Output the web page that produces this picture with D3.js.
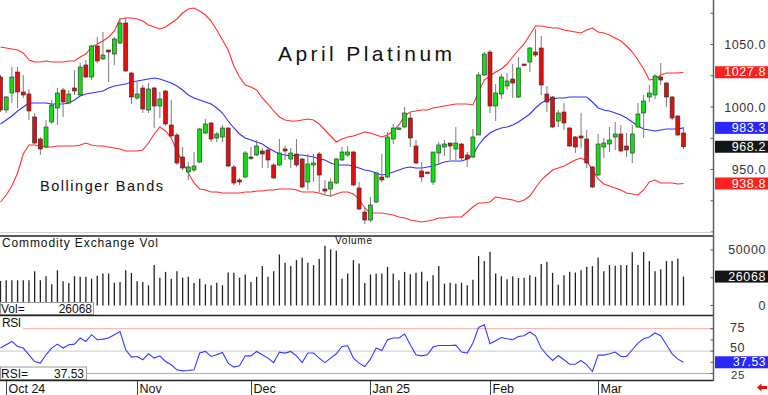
<!DOCTYPE html>
<html>
<head>
<meta charset="utf-8">
<script src="https://cdn.jsdelivr.net/npm/d3@7"></script>
<style>
    body { margin: 0; background: #fff; }
    svg { display: block; font-family: "Liberation Sans", Arial, sans-serif; }
</style>
</head>
<body>
<svg id="chart" width="768" height="395"></svg>
<script>
// daily bars, Sep 30 2024 .. Mar 2025
const opens = [
    1024.0, 997.6, 1011.2, 1028.0, 1012.0, 1010.4, 992.0, 974.4, 968.0, 988.0,
    999.2, 1013.6, 1003.2, 1015.2, 1009.6, 1033.6, 1024.0, 1048.8, 1038.4, 1045.6,
    1042.4, 1051.2, 1067.2, 1027.2, 1007.2, 1015.2, 997.6, 1015.2, 1000.8, 1012.8,
    985.6, 977.6, 960.0, 948.0, 949.6, 956.0, 979.2, 987.2, 975.2, 976.0,
    983.2, 952.0, 941.6, 944.0, 960.0, 961.6, 964.8, 965.6, 953.6, 953.6,
    966.4, 958.4, 962.4, 958.4, 940.0, 953.6, 962.4, 934.4, 934.4, 939.2,
    957.6, 961.6, 964.0, 935.2, 916.0, 909.6, 924.0, 944.0, 944.0, 974.4,
    982.4, 984.0, 991.2, 968.8, 948.8, 948.0, 940.0, 963.2, 968.0, 971.2,
    966.4, 970.4, 961.6, 960.0, 977.6, 1025.6, 1044.0, 1000.8, 1010.4, 1016.8,
    1022.4, 1008.0, 1034.4, 1036.0, 1044.0, 1047.2, 1010.4, 1008.0, 988.8, 996.0,
    983.2, 976.0, 976.8, 974.4, 952.0, 945.6, 968.0, 970.4, 976.0, 978.4,
    968.8, 963.2, 984.0, 995.2, 1008.0, 1009.6, 1024.0, 1019.2, 1008.0, 992.8,
    979.2
];
const highs = [
    1025.6, 1008.8, 1032.0, 1032.0, 1025.6, 1014.4, 995.2, 976.0, 989.6, 1005.6,
    1015.2, 1015.2, 1013.6, 1029.6, 1035.2, 1037.6, 1049.6, 1056.0, 1060.0, 1045.6,
    1056.0, 1071.2, 1071.2, 1028.0, 1020.0, 1017.6, 1019.2, 1016.0, 1012.0, 1013.6,
    1005.6, 979.2, 968.0, 956.0, 964.0, 983.2, 990.4, 988.0, 980.0, 985.6,
    984.0, 953.6, 943.2, 964.8, 968.0, 973.6, 967.2, 968.0, 955.2, 974.4,
    968.8, 967.2, 974.4, 959.2, 962.4, 962.4, 964.0, 941.6, 943.2, 959.2,
    968.0, 968.8, 964.8, 940.0, 920.0, 928.0, 948.0, 962.4, 980.0, 986.4,
    984.0, 1000.0, 995.2, 973.6, 956.0, 948.0, 964.0, 972.0, 973.6, 971.2,
    984.0, 971.2, 964.0, 982.4, 1028.0, 1044.0, 1045.6, 1018.4, 1026.4, 1027.2,
    1034.4, 1040.0, 1034.4, 1048.0, 1062.4, 1056.8, 1016.8, 1008.8, 997.6, 1003.2,
    984.0, 976.8, 995.2, 981.6, 952.8, 978.4, 975.2, 984.0, 988.0, 985.6,
    979.2, 985.6, 1003.2, 1009.6, 1017.6, 1026.4, 1035.2, 1020.0, 1008.8, 993.6,
    984.0
];
const lows = [
    996.0, 995.2, 1003.2, 999.2, 1007.2, 989.6, 970.4, 961.6, 967.2, 986.4,
    985.6, 992.0, 1002.4, 1009.6, 1008.8, 1023.2, 1021.6, 1035.2, 1037.6, 1020.0,
    1033.6, 1050.4, 1028.0, 1002.4, 1005.6, 995.2, 995.2, 983.2, 991.2, 984.8,
    976.0, 953.6, 949.6, 941.6, 948.0, 955.2, 978.4, 972.0, 972.0, 972.0,
    952.0, 937.6, 937.6, 943.2, 957.6, 960.8, 951.2, 951.2, 942.4, 952.8,
    957.6, 951.2, 952.0, 935.2, 933.6, 940.0, 932.0, 929.6, 928.0, 938.4,
    956.8, 960.0, 936.8, 917.6, 906.4, 908.0, 923.2, 940.0, 943.2, 970.4,
    981.6, 983.2, 968.0, 954.4, 940.0, 947.2, 937.6, 953.6, 960.8, 957.6,
    957.6, 957.6, 952.0, 959.2, 977.6, 1024.8, 995.2, 988.8, 1006.4, 1013.6,
    1007.2, 1007.2, 1033.6, 1028.0, 1040.0, 1009.6, 996.0, 983.2, 984.0, 981.6,
    968.0, 963.2, 967.2, 951.2, 935.2, 944.8, 959.2, 964.0, 965.6, 964.0,
    960.0, 955.2, 983.2, 975.2, 1004.0, 1006.4, 1017.6, 1000.0, 989.6, 976.8,
    966.4
];
const closes = [
    997.6, 1008.0, 1024.0, 1012.0, 1009.6, 996.8, 971.2, 966.4, 984.0, 1001.6,
    1011.2, 1004.0, 1010.4, 1012.8, 1032.0, 1024.0, 1048.8, 1036.8, 1041.6, 1044.0,
    1054.4, 1067.2, 1028.8, 1008.0, 1010.4, 998.4, 1014.4, 1000.8, 1006.4, 986.4,
    976.8, 955.2, 951.2, 952.0, 952.8, 982.4, 986.4, 974.4, 978.4, 983.2,
    952.8, 939.2, 940.0, 963.2, 959.2, 968.8, 962.4, 957.6, 943.2, 963.2,
    964.8, 963.2, 953.6, 936.0, 954.4, 955.2, 945.6, 932.8, 940.0, 958.4,
    964.0, 964.0, 937.6, 918.4, 909.6, 921.6, 947.2, 941.6, 976.0, 983.2,
    983.2, 995.2, 975.2, 955.2, 944.0, 947.2, 964.0, 969.6, 970.4, 968.8,
    971.2, 959.2, 958.4, 976.0, 1025.6, 1042.4, 1000.8, 1011.2, 1024.0, 1020.8,
    1019.2, 1031.2, 1033.6, 1047.2, 1041.6, 1017.6, 1004.0, 984.0, 995.2, 987.2,
    968.8, 968.0, 975.2, 955.2, 936.0, 970.4, 971.2, 973.6, 978.4, 964.8,
    965.6, 978.4, 994.4, 1004.8, 1011.2, 1024.8, 1021.6, 1008.0, 991.2, 977.6,
    968.2
];

// Bollinger bands
const upperBand = [
    1048.0, 1047.2, 1046.4, 1045.6, 1043.2, 1037.6, 1036.0, 1036.0, 1036.8, 1036.0,
    1036.0, 1036.0, 1036.8, 1036.8, 1040.0, 1042.4, 1048.0, 1050.4, 1052.8, 1056.0,
    1060.8, 1070.4, 1071.2, 1071.2, 1070.4, 1068.8, 1065.6, 1064.0, 1062.4, 1064.0,
    1067.2, 1070.4, 1075.2, 1078.4, 1079.2, 1076.8, 1073.6, 1068.8, 1061.6, 1053.6,
    1045.6, 1032.8, 1024.0, 1017.6, 1016.0, 1013.6, 1007.2, 1002.4, 996.8, 992.0,
    989.6, 988.8, 988.8, 989.6, 990.4, 989.6, 986.4, 981.6, 976.8, 972.0,
    974.4, 976.0, 976.8, 978.4, 980.0, 979.2, 977.6, 976.0, 977.6, 980.8,
    985.6, 992.8, 996.0, 996.8, 997.6, 997.6, 999.2, 1000.0, 1000.8, 1001.6,
    1002.4, 1002.4, 1002.4, 1001.6, 1012.0, 1021.6, 1024.8, 1028.0, 1030.4, 1034.4,
    1040.0, 1045.6, 1050.4, 1057.6, 1064.8, 1064.8, 1064.0, 1063.2, 1063.2, 1061.6,
    1060.8, 1060.0, 1059.2, 1061.6, 1063.2, 1060.0, 1059.2, 1057.6, 1055.2, 1052.8,
    1048.8, 1044.0, 1037.6, 1030.4, 1021.6, 1022.4, 1025.6, 1027.2, 1027.2, 1027.2,
    1027.8
];
const middleBand = [
    986.4, 989.6, 992.8, 996.8, 1000.0, 1003.2, 1003.2, 1003.2, 1003.2, 1002.4,
    1002.4, 1002.4, 1003.2, 1005.6, 1008.8, 1010.4, 1011.2, 1012.0, 1012.8, 1015.2,
    1016.8, 1017.6, 1018.4, 1020.0, 1020.8, 1021.6, 1022.4, 1023.2, 1022.4, 1020.8,
    1019.2, 1016.8, 1013.6, 1009.6, 1007.2, 1005.6, 1004.0, 1002.4, 999.2, 995.2,
    988.8, 983.2, 978.4, 975.2, 973.6, 972.0, 970.4, 967.2, 964.8, 962.4,
    961.6, 960.8, 961.6, 961.6, 960.8, 960.0, 958.4, 957.6, 955.2, 953.6,
    953.6, 953.6, 952.8, 951.2, 949.6, 948.8, 947.2, 945.6, 946.4, 948.0,
    949.6, 951.2, 952.0, 951.2, 951.2, 952.0, 952.8, 954.4, 956.0, 956.8,
    956.8, 956.8, 958.4, 961.6, 969.6, 975.2, 979.2, 981.6, 983.2, 984.0,
    985.6, 988.0, 991.2, 994.4, 999.2, 1003.2, 1005.6, 1006.4, 1007.2, 1007.2,
    1008.0, 1008.0, 1008.0, 1008.0, 1004.0, 999.2, 997.6, 996.8, 995.2, 993.6,
    991.2, 988.0, 984.8, 982.4, 981.6, 980.8, 981.6, 982.4, 982.4, 982.4,
    983.3
];
const lowerBand = [
    924.0, 929.6, 936.8, 947.2, 962.4, 969.6, 969.6, 968.8, 968.0, 968.0,
    968.8, 968.8, 968.8, 968.8, 969.6, 971.2, 969.6, 968.8, 968.8, 968.0,
    967.2, 966.4, 964.8, 964.8, 964.8, 965.6, 971.2, 978.4, 984.0, 980.8,
    975.2, 964.8, 956.0, 947.2, 939.2, 934.4, 933.6, 932.0, 932.0, 931.2,
    931.2, 931.2, 931.2, 932.0, 932.0, 932.8, 932.8, 933.6, 933.6, 934.4,
    934.4, 934.4, 933.6, 932.0, 932.0, 932.0, 931.2, 929.6, 928.8, 930.4,
    932.0, 932.0, 930.4, 926.4, 919.2, 915.2, 915.2, 915.2, 914.4, 913.6,
    912.0, 911.2, 909.6, 908.8, 908.0, 908.8, 909.6, 911.2, 911.2, 912.0,
    912.0, 912.0, 916.0, 920.0, 923.2, 923.2, 924.0, 928.0, 927.2, 926.4,
    925.6, 924.0, 925.6, 928.8, 935.2, 941.6, 945.6, 949.6, 951.2, 952.8,
    955.2, 957.6, 959.2, 956.8, 949.6, 942.4, 938.4, 936.8, 935.2, 933.6,
    931.2, 930.4, 929.6, 933.6, 940.0, 941.6, 939.2, 939.2, 939.2, 938.4,
    938.8
];

const volumes = [
    22000, 22700, 22700, 22700, 22700, 22700, 30900, 22700, 26400, 19100,
    31800, 21800, 20300, 26400, 25800, 25800, 24200, 26700, 28800, 28800,
    20600, 21200, 31800, 29400, 21800, 21200, 18200, 36400, 25100, 30300,
    24200, 30900, 25100, 25800, 20300, 24200, 19100, 18200, 20600, 18200,
    29700, 29400, 25100, 27900, 21200, 25800, 35500, 25800, 30900, 46000,
    38500, 35500, 40900, 43000, 38500, 36400, 41800, 53900, 50600, 49400,
    24200, 28800, 40900, 37900, 20300, 27900, 28800, 28800, 34800, 28800,
    22700, 30300, 28200, 29400, 30300, 21800, 27300, 35500, 19700, 20600,
    19700, 20600, 18200, 23300, 44500, 40000, 48500, 28800, 26400, 23600,
    26400, 24800, 25100, 27300, 25800, 37300, 39400, 29400, 18800, 27300,
    30300, 29700, 31800, 34800, 35500, 43300, 30900, 36400, 35700, 36400,
    36400, 47900, 36400, 48200, 40000, 30900, 32700, 40000, 40000, 42400,
    26068
];

const rsiValues = [
    53.4, 57.1, 60.8, 55.2, 53.4, 45.9, 38.4, 36.6, 45.9, 53.4,
    57.8, 53.4, 57.1, 57.8, 64.6, 60.8, 68.3, 62.7, 63.4, 64.6,
    68.3, 71.9, 51.5, 43.3, 44.0, 40.3, 47.0, 42.2, 44.7, 38.4,
    34.7, 29.1, 27.9, 28.3, 29.1, 47.8, 49.6, 44.0, 45.9, 48.4,
    36.6, 32.1, 33.5, 44.7, 44.7, 49.6, 45.9, 42.2, 37.2, 48.9,
    47.8, 49.6, 44.7, 37.2, 47.8, 47.8, 42.2, 37.2, 42.2, 47.0,
    55.2, 55.9, 42.2, 36.6, 32.8, 41.0, 53.4, 50.7, 62.7, 64.6,
    64.6, 69.0, 57.1, 45.9, 44.7, 45.9, 54.5, 56.3, 56.3, 56.3,
    56.7, 48.9, 47.8, 59.0, 76.4, 79.5, 58.2, 61.5, 65.2, 63.8,
    62.7, 66.3, 67.1, 71.3, 67.1, 53.4, 45.9, 39.5, 45.1, 40.3,
    35.4, 35.4, 39.5, 34.7, 27.2, 45.5, 45.5, 47.0, 48.9, 44.0,
    44.0, 51.5, 59.0, 63.8, 65.7, 70.2, 67.1, 57.1, 47.0, 41.0,
    37.53
];

const monthLabels = ["Oct 24", "Nov", "Dec", "Jan 25", "Feb", "Mar"];
const monthStarts = [1, 24, 44, 65, 86, 105];

const priceTicks = [1050, 1000, 950];
const volTicks = [50000, 0];
const rsiTicks = [75, 50, 25];

const svg = d3.select("#chart");
const axisX = 713.5;

let x = d3.scaleLinear().domain([0, closes.length - 1]).range([0.5, 683.5]);
let yPrice = d3.scaleLinear().domain([900, 1000]).range([232, 107]);
let yVol = d3.scaleLinear().domain([0, 50000]).range([305.5, 250]);
let yRsi = d3.scaleLinear().domain([25, 75]).range([373.5, 328.7]);

/**
 * Draws a coloured box on the right axis with the current value
 */
function valueBox(y, text, color, size) {
    size = size || 12.5;
    svg.append("rect")
        .attr("x", axisX + 1.5)
        .attr("y", y - 6)
        .attr("width", 768 - axisX)
        .attr("height", 12)
        .attr("fill", color);
    svg.append("text")
        .attr("x", 766)
        .attr("y", y + size * 0.33)
        .attr("text-anchor", "end")
        .attr("font-size", size)
        .attr("letter-spacing", 0.6)
        .attr("fill", "#fff")
        .text(text);
}

/**
 * Axis label drawn as plain text on the right
 */
function axisLabel(xr, baseline, text, size) {
    svg.append("text")
        .attr("x", xr)
        .attr("y", baseline)
        .attr("text-anchor", "end")
        .attr("font-size", size || 12.5)
        .attr("letter-spacing", 0.6)
        .attr("fill", "#333")
        .text(text);
}

/**
 * Candles plus bollinger bands
 */
function drawPricePanel() {
    let g = svg.append("g");
    let bandLine = d3.line()
        .x((d, i) => x(i))
        .y(d => yPrice(d));

    g.append("path").datum(upperBand)
        .attr("d", bandLine).attr("fill", "none")
        .attr("stroke", "#ff3030").attr("stroke-width", 1.1);
    g.append("path").datum(lowerBand)
        .attr("d", bandLine).attr("fill", "none")
        .attr("stroke", "#ff3030").attr("stroke-width", 1.1);
    g.append("path").datum(middleBand)
        .attr("d", bandLine).attr("fill", "none")
        .attr("stroke", "#3030ff").attr("stroke-width", 1.1);

    let idx = d3.range(closes.length);
    let candles = g.selectAll(".candle").data(idx).enter()
        .append("g").attr("class", "candle");

    candles.append("line")
        .attr("x1", i => x(i)).attr("x2", i => x(i))
        .attr("y1", i => yPrice(highs[i]))
        .attr("y2", i => yPrice(lows[i]))
        .attr("stroke", "#7a7a7a")
        .attr("stroke-width", 1);

    candles.append("rect")
        .attr("x", i => x(i) - 2)
        .attr("width", 4)
        .attr("y", i => yPrice(Math.max(opens[i], closes[i])))
        .attr("height", i => Math.max(1.5, Math.abs(yPrice(opens[i]) - yPrice(closes[i]))))
        .attr("fill", i => closes[i] >= opens[i] ? "#10e010" : "#e01010")
        .attr("stroke", "#2a2a2a")
        .attr("stroke-width", 0.6);

    svg.append("text")
        .attr("x", 278).attr("y", 61)
        .attr("font-size", 21)
        .attr("fill", "#111")
        .attr("textLength", 174)
        .attr("lengthAdjust", "spacing")
        .text("April Platinum");

    svg.append("text")
        .attr("x", 40).attr("y", 191)
        .attr("font-size", 14.5)
        .attr("fill", "#111")
        .attr("textLength", 123)
        .attr("lengthAdjust", "spacing")
        .text("Bollinger Bands");

    priceTicks.forEach(p => axisLabel(766, yPrice(p) + 4.6, p.toFixed(1)));
    valueBox(yPrice(upperBand[upperBand.length - 1]), "1027.8", "#ff2020");
    valueBox(yPrice(middleBand[middleBand.length - 1]), "983.3", "#2828ff");
    valueBox(yPrice(closes[closes.length - 1]), "968.2", "#151515");
    valueBox(yPrice(lowerBand[lowerBand.length - 1]), "938.8", "#ff2020");

    // minor ticks every 25
    d3.range(900, 1100, 25).forEach(p => {
        svg.append("line")
            .attr("x1", axisX - 3).attr("x2", axisX)
            .attr("y1", yPrice(p)).attr("y2", yPrice(p))
            .attr("stroke", "#555");
    });
}

/**
 * Volume bars
 */
function drawVolumePanel() {
    svg.selectAll(".vol").data(volumes).enter()
        .append("line").attr("class", "vol")
        .attr("x1", (d, i) => x(i)).attr("x2", (d, i) => x(i))
        .attr("y1", yVol(0))
        .attr("y2", d => yVol(d))
        .attr("stroke", "#222")
        .attr("stroke-width", 1.3);

    svg.append("text")
        .attr("x", 2).attr("y", 247)
        .attr("font-size", 12).attr("fill", "#111")
        .attr("textLength", 156).attr("lengthAdjust", "spacing")
        .text("Commodity Exchange Vol");
    svg.append("text")
        .attr("x", 335).attr("y", 243.5)
        .attr("font-size", 10).attr("fill", "#111")
        .attr("textLength", 37).attr("lengthAdjust", "spacing")
        .text("Volume");

    svg.append("rect")
        .attr("x", 0.5).attr("y", 302.5).attr("width", 93).attr("height", 12)
        .attr("fill", "#fff").attr("stroke", "#999");
    svg.append("text").attr("x", 1).attr("y", 313)
        .attr("font-size", 12).attr("fill", "#111").text("Vol=");
    svg.append("text").attr("x", 92).attr("y", 313)
        .attr("font-size", 12).attr("fill", "#111")
        .attr("text-anchor", "end").text("26068");

    volTicks.forEach(v => axisLabel(766, yVol(v) + 4, String(v)));
    valueBox(yVol(volumes[volumes.length - 1]), "26068", "#151515");
    [0, 25000, 50000].forEach(v => {
        svg.append("line")
            .attr("x1", axisX - 3).attr("x2", axisX)
            .attr("y1", yVol(v)).attr("y2", yVol(v))
            .attr("stroke", "#555");
    });
}

/**
 * RSI line with its reference levels
 */
function drawRsiPanel() {
    svg.append("line")
        .attr("x1", 23).attr("x2", axisX)
        .attr("y1", yRsi(75)).attr("y2", yRsi(75))
        .attr("stroke", "#f5a8a8");
    svg.append("line")
        .attr("x1", 0).attr("x2", axisX)
        .attr("y1", yRsi(50)).attr("y2", yRsi(50))
        .attr("stroke", "#c8c8c8");
    svg.append("line")
        .attr("x1", 86).attr("x2", axisX)
        .attr("y1", yRsi(25)).attr("y2", yRsi(25))
        .attr("stroke", "#a8a8f0");

    let rsiLine = d3.line()
        .x((d, i) => x(i))
        .y(d => yRsi(d));
    svg.append("path").datum(rsiValues)
        .attr("d", rsiLine).attr("fill", "none")
        .attr("stroke", "#3838ff").attr("stroke-width", 1.1);

    svg.append("text")
        .attr("x", 2).attr("y", 327)
        .attr("font-size", 12).attr("fill", "#111")
        .attr("textLength", 19).attr("lengthAdjust", "spacing")
        .text("RSI");

    svg.append("rect")
        .attr("x", 0.5).attr("y", 367).attr("width", 86).attr("height", 12.5)
        .attr("fill", "#fff").attr("stroke", "#999");
    svg.append("text").attr("x", 1).attr("y", 378)
        .attr("font-size", 12).attr("fill", "#111").text("RSI=");
    svg.append("text").attr("x", 84).attr("y", 378)
        .attr("font-size", 12).attr("fill", "#111")
        .attr("text-anchor", "end").text("37.53");

    // labels sit a little above their levels, as in the original
    axisLabel(745, yRsi(75) + 3, "75");
    axisLabel(745, yRsi(50) + 1.2, "50");
    axisLabel(745, yRsi(25) + 5.8, "25", 11.5);
    valueBox(yRsi(rsiValues[rsiValues.length - 1]), "37.53", "#2828ff", 12);
    d3.range(25, 80, 12.5).forEach(r => {
        svg.append("line")
            .attr("x1", axisX - 3).attr("x2", axisX)
            .attr("y1", yRsi(r)).attr("y2", yRsi(r))
            .attr("stroke", "#555");
    });
}

/**
 * Panel separators, right axis and month labels
 */
function drawFrame() {
    svg.append("line")
        .attr("x1", 0).attr("x2", axisX).attr("y1", 232.5).attr("y2", 232.5)
        .attr("stroke", "#d0d0d0");
    [236, 315.5, 380.5].forEach(y => {
        svg.append("line")
            .attr("x1", 0).attr("x2", axisX).attr("y1", y).attr("y2", y)
            .attr("stroke", "#222").attr("stroke-width", 1.6);
    });
    svg.append("line")
        .attr("x1", axisX).attr("x2", axisX).attr("y1", 0).attr("y2", 381)
        .attr("stroke", "#555").attr("stroke-width", 1.4);

    monthStarts.forEach((m, k) => {
        let mx = Math.round(x(m)) + 0.5;
        svg.append("line")
            .attr("x1", mx).attr("x2", mx).attr("y1", 381).attr("y2", 395)
            .attr("stroke", "#444");
        svg.append("text")
            .attr("x", mx + 2).attr("y", 392.5)
            .attr("font-size", 12.5).attr("fill", "#111")
            .text(monthLabels[k]);
    });

    svg.append("path")
        .attr("d", "M757,387.5 L761.5,383.5 L761.5,386 L767,386 L767,389 L761.5,389 L761.5,391.5 Z")
        .attr("fill", "#e01010");
}

drawPricePanel();
drawVolumePanel();
drawRsiPanel();
drawFrame();
</script>
</body>
</html>
